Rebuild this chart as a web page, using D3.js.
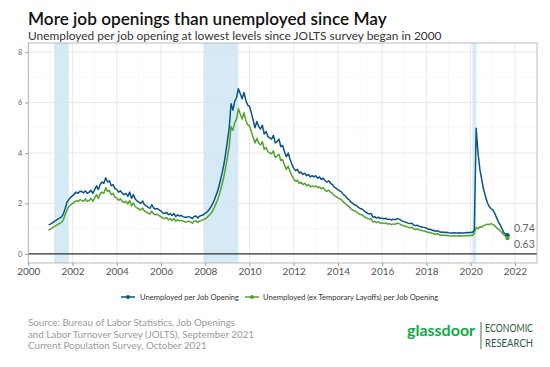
<!DOCTYPE html>
<html><head><meta charset="utf-8">
<script src="https://cdn.jsdelivr.net/npm/d3@7"></script>
<style>body{margin:0;background:#fff}svg{display:block}text{font-family:Lato,"Open Sans",sans-serif}</style>
</head><body><svg id="c" width="550" height="367"></svg>
<script>
// Monthly data, Dec 2000 .. Sep 2021
const startYear = 2000, startMonth = 11; // December 2000 (0-based month)
const unemployedPerOpening = [
 1.15,
 1.18,1.23,1.28,1.33,1.38,1.42,1.47,1.58,1.80,2.05,2.15,2.25,
 2.30,2.38,2.45,2.40,2.48,2.47,2.42,2.50,2.40,2.45,2.52,2.40,
 2.55,2.70,2.55,2.75,2.85,2.80,3.02,2.85,2.90,2.70,2.75,2.60,
 2.55,2.45,2.50,2.40,2.35,2.40,2.28,2.45,2.20,2.35,2.18,2.10,
 2.05,2.00,2.10,1.95,1.90,1.85,1.80,1.95,1.82,1.78,1.80,1.75,
 1.70,1.62,1.60,1.65,1.55,1.60,1.52,1.60,1.48,1.55,1.50,1.52,
 1.48,1.45,1.45,1.48,1.45,1.40,1.48,1.50,1.42,1.50,1.52,1.55,
 1.62,1.66,1.75,1.85,1.98,2.15,2.35,2.55,2.85,3.15,3.50,3.95,
 4.45,5.00,5.95,5.70,6.05,6.20,6.55,6.35,6.15,6.40,6.10,5.90,
 5.85,5.60,5.30,5.00,5.25,5.05,4.95,5.10,4.75,4.85,4.65,4.60,
 4.55,4.70,4.40,4.45,4.55,4.25,4.30,4.05,3.85,4.00,3.75,3.55,
 3.40,3.30,3.35,3.20,3.25,3.15,3.20,3.10,3.15,3.05,3.10,3.05,
 3.10,3.00,3.05,2.95,3.00,2.90,2.85,2.90,2.80,2.75,2.65,2.60,
 2.55,2.50,2.45,2.35,2.30,2.20,2.15,2.05,2.00,1.95,1.92,1.85,
 1.80,1.78,1.72,1.65,1.62,1.58,1.60,1.45,1.48,1.42,1.46,1.40,
 1.42,1.38,1.42,1.36,1.38,1.34,1.38,1.35,1.40,1.38,1.35,1.30,
 1.28,1.25,1.22,1.20,1.22,1.15,1.12,1.14,1.10,1.08,1.06,1.05,
 1.02,0.98,0.98,0.95,0.93,0.90,0.92,0.88,0.86,0.87,0.85,0.86,
 0.84,0.83,0.83,0.84,0.83,0.83,0.84,0.83,0.83,0.84,0.85,0.84,
 0.86,0.85,0.95,4.98,4.00,3.35,2.95,2.55,2.30,2.05,1.88,1.80,
 1.75,1.62,1.45,1.28,1.15,1.00,0.85,0.78,0.74
];
const unemployedExTempPerOpening = [
 0.95,
 0.98,1.03,1.08,1.12,1.17,1.21,1.25,1.35,1.55,1.75,1.88,1.95,
 2.00,2.05,2.12,2.08,2.15,2.12,2.08,2.18,2.08,2.12,2.20,2.08,
 2.22,2.35,2.20,2.38,2.45,2.40,2.62,2.48,2.52,2.35,2.40,2.25,
 2.22,2.12,2.18,2.08,2.05,2.08,1.98,2.12,1.90,2.02,1.88,1.82,
 1.78,1.74,1.82,1.70,1.66,1.62,1.58,1.70,1.58,1.55,1.57,1.52,
 1.47,1.42,1.40,1.44,1.35,1.40,1.32,1.40,1.30,1.35,1.31,1.33,
 1.30,1.27,1.27,1.30,1.27,1.22,1.30,1.31,1.25,1.31,1.33,1.36,
 1.40,1.44,1.52,1.60,1.70,1.85,2.02,2.20,2.45,2.72,3.02,3.40,
 3.82,4.25,5.05,4.90,5.20,5.35,5.75,5.55,5.35,5.60,5.30,5.12,
 5.08,4.85,4.62,4.40,4.58,4.40,4.32,4.45,4.15,4.22,4.05,4.00,
 3.97,4.08,3.82,3.88,3.95,3.70,3.74,3.52,3.35,3.48,3.27,3.10,
 2.97,2.88,2.92,2.80,2.84,2.75,2.80,2.70,2.75,2.66,2.70,2.66,
 2.70,2.62,2.66,2.58,2.62,2.53,2.48,2.53,2.44,2.40,2.31,2.27,
 2.22,2.18,2.14,2.05,2.00,1.92,1.88,1.79,1.74,1.70,1.67,1.61,
 1.57,1.55,1.50,1.44,1.41,1.38,1.39,1.26,1.29,1.24,1.27,1.22,
 1.23,1.20,1.23,1.18,1.20,1.16,1.19,1.17,1.22,1.20,1.17,1.13,
 1.11,1.09,1.06,1.04,1.06,1.00,0.97,0.99,0.96,0.94,0.92,0.91,
 0.88,0.85,0.85,0.82,0.80,0.78,0.80,0.76,0.74,0.75,0.73,0.74,
 0.72,0.71,0.71,0.72,0.71,0.71,0.72,0.71,0.71,0.72,0.73,0.72,
 0.74,0.73,0.82,1.05,1.00,1.08,1.06,1.12,1.15,1.18,1.16,1.20,
 1.17,1.12,1.05,0.98,0.92,0.84,0.76,0.69,0.63
];
const recessionStarts = [2001.17, 2007.92, 2020.08];
const recessionEnds   = [2001.83, 2009.50, 2020.25];
const xTicks = [2000,2002,2004,2006,2008,2010,2012,2014,2016,2018,2020,2022];
const yTicks = [0,2,4,6,8];
const seriesNames = ["Unemployed per Job Opening","Unemployed (ex Temporary Layoffs) per Job Opening"];
const endLabels = ["0.74","0.63"];
const sourceLines = ["Source: Bureau of Labor Statistics, Job Openings","and Labor Turnover Survey (JOLTS), September 2021","Current Population Survey, October 2021"];

const colors = ["#0a5585","#52a32c"];
const svg = d3.select("#c");
const L = 28.3, R = 537, T = 43, B = 263;
const x = d3.scaleLinear().domain([2000, 2023]).range([L, R]);
const y = d3.scaleLinear().domain([-0.36, 8.36]).range([B, T]);
const t = i => startYear + (startMonth + i) / 12;

// title
svg.append("text").attr("x", 28).attr("y", 24.5).attr("font-size", 17.2).attr("font-weight", 600).attr("fill", "#111")
  .text("More job openings than unemployed since May");
svg.append("text").attr("x", 28).attr("y", 39.5).attr("font-size", 11.9).attr("fill", "#333")
  .text("Unemployed per job opening at lowest levels since JOLTS survey began in 2000");

// grid
const g = svg.append("g");
const minorX = d3.range(2001, 2023, 2);
g.selectAll(".mnx").data(minorX).join("line").attr("x1", d => x(d)).attr("x2", d => x(d)).attr("y1", T).attr("y2", B).attr("stroke", "#f1f1f1").attr("stroke-width", 0.6);
g.selectAll(".mny").data([1,3,5,7]).join("line").attr("class","mny").attr("x1", L).attr("x2", R).attr("y1", d => y(d)).attr("y2", d => y(d)).attr("stroke", "#f1f1f1").attr("stroke-width", 0.6);
g.selectAll(".mjx").data(xTicks).join("line").attr("class","mjx").attr("x1", d => x(d)).attr("x2", d => x(d)).attr("y1", T).attr("y2", B).attr("stroke", "#e6e6e6").attr("stroke-width", 0.9);
g.selectAll(".mjy").data(yTicks).join("line").attr("class","mjy").attr("x1", L).attr("x2", R).attr("y1", d => y(d)).attr("y2", d => y(d)).attr("stroke", "#e6e6e6").attr("stroke-width", 0.9);

// recessions
svg.selectAll(".rec").data(recessionStarts).join("rect").attr("class","rec")
  .attr("x", d => x(d)).attr("width", (d, i) => x(recessionEnds[i]) - x(d))
  .attr("y", T).attr("height", B - T).attr("fill", "#cfe6f4").attr("opacity", 0.85);

// zero line
svg.append("line").attr("x1", L).attr("x2", R).attr("y1", y(0)).attr("y2", y(0)).attr("stroke", "#333").attr("stroke-width", 1.1);

// lines
const line = d3.line().x((d, i) => x(t(i))).y(d => y(d));
const series = [unemployedPerOpening, unemployedExTempPerOpening];
[1, 0].forEach(k => {
  svg.append("path").datum(series[k]).attr("d", line).attr("fill", "none")
    .attr("stroke", colors[k]).attr("stroke-width", 1.5).attr("stroke-linejoin", "round");
});
series.forEach((s, k) => {
  const n = s.length - 1;
  svg.append("circle").attr("cx", x(t(n))).attr("cy", y(s[n])).attr("r", 2.2).attr("fill", colors[k]);
});
svg.append("text").attr("x", 514).attr("y", 232).attr("font-size", 10.5).attr("fill", "#666").text(endLabels[0]);
svg.append("text").attr("x", 514).attr("y", 248).attr("font-size", 10.5).attr("fill", "#666").text(endLabels[1]);

// panel border
svg.append("rect").attr("x", L).attr("y", T).attr("width", R - L).attr("height", B - T).attr("fill", "none").attr("stroke", "#aaa").attr("stroke-width", 0.8);

// axes
const xa = svg.append("g").attr("transform", `translate(0,${B})`)
  .call(d3.axisBottom(x).tickValues(xTicks).tickFormat(d3.format("d")).tickSize(3).tickPadding(2));
xa.select(".domain").remove();
xa.selectAll("line").attr("stroke", "#999");
xa.selectAll("text").attr("font-size", 10).attr("fill", "#555").attr("font-family", "Lato");
const ya = svg.append("g").attr("transform", `translate(${L},0)`)
  .call(d3.axisLeft(y).tickValues(yTicks).tickSize(3).tickPadding(3));
ya.select(".domain").remove();
ya.selectAll("line").attr("stroke", "#999");
ya.selectAll("text").attr("font-size", 7.5).attr("fill", "#666").attr("font-family", "Lato");

// legend
const legX = [121, 245], legTX = [140, 263];
seriesNames.forEach((nm, k) => {
  const lg = svg.append("g");
  lg.append("line").attr("x1", legX[k]).attr("x2", legX[k] + 14).attr("y1", 297).attr("y2", 297).attr("stroke", colors[k]).attr("stroke-width", 1.5);
  lg.append("circle").attr("cx", legX[k] + 7).attr("cy", 297).attr("r", 2).attr("fill", colors[k]);
  lg.append("text").attr("x", legTX[k]).attr("y", 300).attr("font-size", 7.6).attr("fill", "#333").text(nm);
});

// source
sourceLines.forEach((s, i) => {
  svg.append("text").attr("x", 28).attr("y", 326 + i * 11.5).attr("font-size", 9.8).attr("fill", "#9a9a9a").text(s);
});

// logo
svg.append("text").attr("x", 407).attr("y", 336).attr("font-size", 16).attr("font-weight", 700).attr("fill", "#0caa41").text("glassdoor");
svg.append("line").attr("x1", 481).attr("x2", 481).attr("y1", 322).attr("y2", 349).attr("stroke", "#4a6a55").attr("stroke-width", 1);
const condensed = "'Liberation Sans Narrow','DejaVu Sans Condensed',sans-serif";
svg.append("text").attr("x", 485).attr("y", 332).attr("font-size", 11.5).attr("fill", "#2f5a40").attr("font-family", condensed).attr("textLength", 48).attr("lengthAdjust", "spacingAndGlyphs").text("ECONOMIC");
svg.append("text").attr("x", 485).attr("y", 347).attr("font-size", 11.5).attr("fill", "#2f5a40").attr("font-family", condensed).attr("textLength", 48).attr("lengthAdjust", "spacingAndGlyphs").text("RESEARCH");
</script></body></html>
